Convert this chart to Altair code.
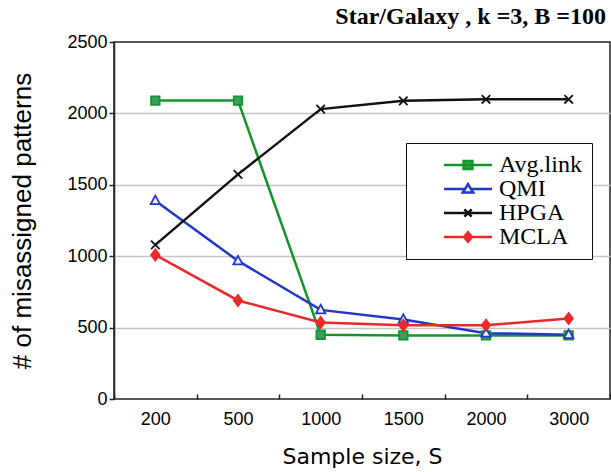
import altair as alt
import pandas as pd

sizes = ["200", "500", "1000", "1500", "2000", "3000"]
series = ["Avg.link", "QMI", "HPGA", "MCLA"]
avg_link = [2090, 2090, 450, 445, 445, 445]
qmi = [1389, 967, 624, 557, 461, 450]
hpga = [1079, 1573, 2030, 2088, 2099, 2099]
mcla = [1009, 690, 536, 517, 517, 564]
y_ticks = [0, 500, 1000, 1500, 2000, 2500]

colors = ["#14952c", "#2436c8", "#111111", "#e82a2a"]
point_fills = ["#3a9e63", "#eef0ff", "transparent", "#e82a2a"]
point_paths = [
    "M-1,-1H1V1H-1Z",
    "M0,-1.2L1.1,0.8H-1.1Z",
    "M-1,-1L1,1M-1,1L1,-1",
    "M0,-1.3L1,0L0,1.3L-1,0Z",
]
legend_paths = [
    "M-3,0H3M-0.55,-0.5H0.55V0.5H-0.55Z",
    "M-3,0H-0.45M0.45,0H3M0,-0.6L0.65,0.45H-0.65Z",
    "M-3,0H3M-0.45,-0.45L0.45,0.45M-0.45,0.45L0.45,-0.45",
    "M-3,0H3M0,-0.6L0.5,0L0,0.6L-0.5,0Z",
]

values_by_series = [avg_link, qmi, hpga, mcla]
rows = []
for name, vals in zip(series, values_by_series):
    for s, v in zip(sizes, vals):
        rows.append({"series": name, "size": s, "value": v})
df = pd.DataFrame(rows)

legend = alt.Legend(
    title=None,
    orient="none",
    legendX=292,
    legendY=101,
    strokeColor="#111111",
    fillColor="white",
    padding=10,
    labelFont="Liberation Serif",
    labelFontSize=24,
    labelColor="black",
    labelExpr="datum.label + '\u2003'",
    symbolSize=256,
    symbolStrokeWidth=2.5,
    symbolOffset=40,
    labelOffset=19,
    rowPadding=0,
)

x_enc = alt.X(
    "size:N",
    sort=sizes,
    bandPosition=0.5,
    scale=alt.Scale(type="band", paddingInner=0, paddingOuter=0, domain=sizes),
    axis=alt.Axis(
        title="Sample size, S",
        offset=-5,
        domain=False,
        ticks=True,
        tickBand="extent",
        tickSize=5,
        tickColor="#222222",
        tickWidth=1.5,
        labelAngle=0,
        labelFont="Liberation Sans",
        labelFontSize=18,
        labelColor="black",
        labelPadding=11,
        titleFont="DejaVu Sans",
        titleFontSize=22,
        titleFontWeight="normal",
        titleColor="black",
        titlePadding=18,
    ),
)
y_enc = alt.Y(
    "value:Q",
    scale=alt.Scale(domain=[0, 2500], nice=False),
    axis=alt.Axis(
        values=y_ticks,
        format="d",
        title="# of misassigned patterns",
        grid=True,
        gridColor={
            "condition": {
                "test": "datum.value === 0 || datum.value === 2500",
                "value": "transparent",
            },
            "value": "#c4c4c4",
        },
        gridWidth=1.5,
        domain=True,
        domainColor="#222222",
        domainWidth=1.5,
        ticks=True,
        tickSize=5,
        tickColor="#222222",
        tickWidth=1.5,
        labelFont="Liberation Sans",
        labelFontSize=18,
        labelColor="black",
        labelPadding=2,
        titleFont="Liberation Sans",
        titleFontSize=26,
        titleFontWeight="normal",
        titleColor="black",
        titlePadding=31,
    ),
)
color_enc = alt.Color(
    "series:N", sort=series, scale=alt.Scale(domain=series, range=colors), legend=None
)

base = alt.Chart(df).encode(x=x_enc, y=y_enc, color=color_enc)

lines = base.mark_line(strokeWidth=2.5)
points = base.mark_point(filled=False, strokeWidth=1.8, opacity=1, size=72).encode(
    shape=alt.Shape(
        "series:N", scale=alt.Scale(domain=series, range=point_paths), legend=None
    ),
    fill=alt.Fill(
        "series:N", scale=alt.Scale(domain=series, range=point_fills), legend=None
    ),
)

legend_layer = (
    alt.Chart(df)
    .transform_filter("false")
    .mark_point(filled=False, opacity=1)
    .encode(
        x=alt.X("size:N", sort=sizes, bandPosition=0.5),
        y=alt.Y("value:Q"),
        shape=alt.Shape(
            "series:N", scale=alt.Scale(domain=series, range=legend_paths), legend=legend
        ),
        stroke=alt.Stroke(
            "series:N", scale=alt.Scale(domain=series, range=colors), legend=legend
        ),
        fill=alt.Fill(
            "series:N", scale=alt.Scale(domain=series, range=point_fills), legend=legend
        ),
    )
)

chart = (
    alt.layer(lines, points, legend_layer)
    .resolve_scale(shape="independent", fill="independent", stroke="independent")
    .properties(
        width=496,
        height=357,
        autosize=alt.AutoSizeParams(type="none"),
        padding={"left": 114, "top": 42, "right": 1, "bottom": 73},
        background="white",
        title=alt.TitleParams(
            text="Star/Galaxy , k =3, B =100",
            anchor="end",
            frame="group",
            font="Liberation Serif",
            fontSize=24,
            fontWeight="bold",
            color="black",
            baseline="alphabetic",
            offset=15,
            dy=30,
            dx=-4,
        ),
    )
    .configure_view(stroke="#222222", strokeWidth=1.5)
)

chart.save("out.html", embed_options={"renderer": "svg", "actions": False})
